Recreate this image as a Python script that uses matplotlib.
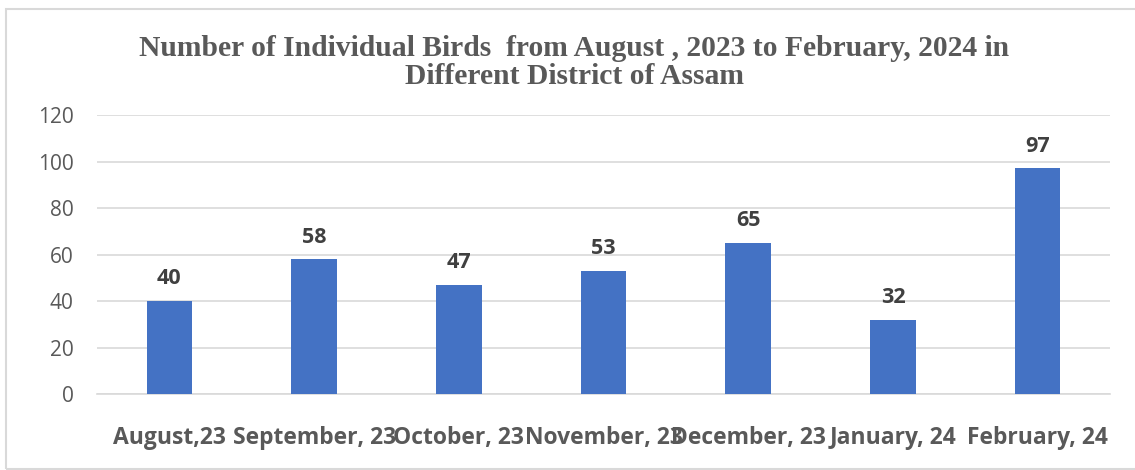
import matplotlib.pyplot as plt
from matplotlib.patches import Rectangle

months = ["August,23", "September, 23", "October, 23", "November, 23",
          "December, 23", "January, 24", "February, 24"]
birds = [40, 58, 47, 53, 65, 32, 97]
y_ticks = [0, 20, 40, 60, 80, 100, 120]

grey = "#595959"

fig = plt.figure(figsize=(11.35, 4.7), dpi=100)
ax = fig.add_axes([0.0855, 0.1617, 0.8925, 0.5936])

# outer chart frame
fig.patches.append(Rectangle((6 / 1135, 0.002), 1.2, 1 - 9 / 470 - 0.002,
                             transform=fig.transFigure, fill=False,
                             edgecolor="#d9d9d9", linewidth=1.5))

x = range(len(months))
bars = ax.bar(x, birds, width=0.315, color="#4472C4", zorder=3)
for b, v in zip(bars, birds):
    ax.text(b.get_x() + b.get_width() / 2, v + 5, str(v), ha="center",
            va="bottom", fontsize=15.5, fontweight="bold", color="#404040",
            family="Open Sans")

ax.set_xlim(-0.5, len(months) - 0.5)
ax.set_ylim(0, 120)
ax.set_yticks(y_ticks)
ax.set_yticklabels([str(t) for t in y_ticks], fontsize=15, color=grey,
                   family="Open Sans")
ax.set_xticks(list(x))
ax.set_xticklabels(months, fontsize=16.5, fontweight="bold", color=grey,
                   family="Open Sans")
ax.tick_params(axis="both", length=0)
ax.tick_params(axis="y", pad=17)
ax.tick_params(axis="x", pad=23)

ax.grid(axis="y", color="#d9d9d9", linewidth=1.2, zorder=0)
for s in ["top", "right", "left"]:
    ax.spines[s].set_visible(False)
ax.spines["bottom"].set_color("#d9d9d9")
ax.spines["bottom"].set_linewidth(1.2)

fig.text(0.506, 0.867, "Number of Individual Birds  from August , 2023 to February, 2024 in\nDifferent District of Assam",
         ha="center", va="center", fontsize=21.3, fontweight="bold",
         color=grey, family="Liberation Serif", linespacing=1.08)

fig.savefig("out.png", dpi=100)
